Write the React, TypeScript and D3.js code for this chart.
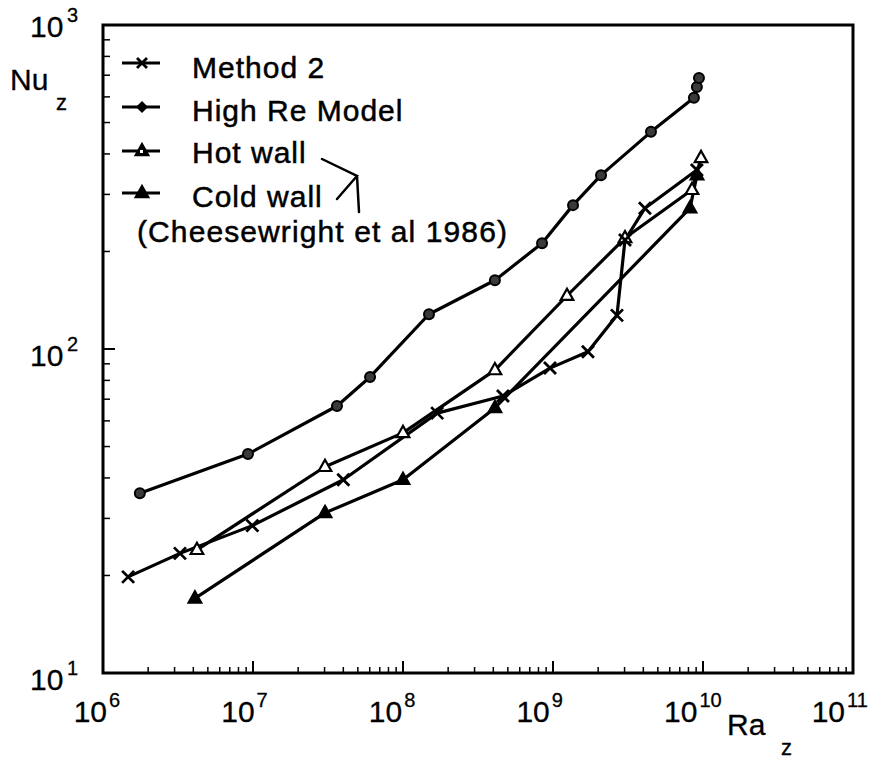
import React from 'react';
import * as d3 from 'd3';

// Ra_z, Nu_z values
const method2Ra = [1.47e6, 3.26e6, 9.9e6, 4.0e7, 1.69e8, 4.64e8, 9.55e8, 1.71e9, 2.67e9, 3.02e9, 4.1e9, 9.1e9];
const method2Nu = [19.8, 23.4, 28.5, 39.5, 63.4, 71.6, 87.3, 98, 127, 217, 272, 357];

const highReRa = [1.76e6, 9.26e6, 3.63e7, 6.03e7, 1.49e8, 4.1e8, 8.45e8, 1.36e9, 2.09e9, 4.5e9, 8.7e9, 9.1e9, 9.4e9];
const highReNu = [35.9, 47.4, 66.7, 82, 128, 163, 212, 278, 344, 468, 596, 644, 686];

const hotRa = [4.23e6, 3.02e7, 1.0e8, 4.1e8, 1.24e9, 3.02e9, 8.45e9, 9.7e9];
const hotNu = [24, 43.3, 55.1, 86.1, 146, 220, 310, 389];

const coldRa = [4.1e6, 3.02e7, 1.0e8, 4.1e8, 8.19e9, 9.12e9];
const coldNu = [17.0, 31.2, 39.5, 65.8, 272, 344];

const xDecades = [6, 7, 8, 9, 10, 11];
const yDecades = [1, 2, 3];

const legendLabels = ['Method 2', 'High Re Model', 'Hot wall', 'Cold wall'];
const sourceNote = '(Cheesewright et al 1986)';

const W = 877;
const H = 759;
const FONT = "'Liberation Sans', Arial, Helvetica, sans-serif";

const x = d3.scaleLog().domain([1e6, 1e11]).range([103, 853]);
const y = d3.scaleLog().domain([10, 1000]).range([673, 25]);

const line = d3
  .line<[number, number]>()
  .x(d => x(d[0]))
  .y(d => y(d[1]));

const zip = (a: number[], b: number[]) => a.map((v, i) => [v, b[i]] as [number, number]);

const Cross = ({ cx, cy, s = 6 }: { cx: number; cy: number; s?: number }) => (
  <path
    d={`M${cx - s},${cy - s}L${cx + s},${cy + s}M${cx - s},${cy + s}L${cx + s},${cy - s}`}
    stroke="#000"
    strokeWidth={2.8}
  />
);

const Tri = ({ cx, cy, fill, s = 7 }: { cx: number; cy: number; fill: string; s?: number }) => (
  <path
    d={`M${cx},${cy - s}L${cx + s * 0.9},${cy + s * 0.6}L${cx - s * 0.9},${cy + s * 0.6}Z`}
    fill={fill}
    stroke="#000"
    strokeWidth={2.2}
  />
);

const Dot = ({ cx, cy }: { cx: number; cy: number }) => (
  <circle cx={cx} cy={cy} r={5} fill="#3a3a3a" stroke="#000" strokeWidth={2} />
);

export default function App() {
  const m2 = zip(method2Ra, method2Nu);
  const hr = zip(highReRa, highReNu);
  const hot = zip(hotRa, hotNu);
  const cold = zip(coldRa, coldNu);

  // minor ticks
  const xMinor: number[] = [];
  for (let d = 6; d < 11; d++) for (let k = 2; k <= 9; k++) xMinor.push(k * Math.pow(10, d));
  const yMinor: number[] = [];
  for (let d = 1; d < 3; d++) for (let k = 2; k <= 9; k++) yMinor.push(k * Math.pow(10, d));

  const legendY = [63, 107, 151, 193];
  const legendTextY = [78, 121, 163, 207];
  const txt = { fill: '#000', stroke: '#000', strokeWidth: 0.5 };

  return (
    <svg
      width={W}
      height={H}
      style={{ position: 'absolute', left: 0, top: 0, background: '#fff' }}
      fontFamily={FONT}
    >
      {/* frame */}
      <rect x={103} y={25} width={750} height={648} fill="none" stroke="#000" strokeWidth={3} />

      {/* x ticks (inward) */}
      {xMinor.map((v, i) => (
        <line key={'xm' + i} x1={x(v)} x2={x(v)} y1={673} y2={667} stroke="#000" strokeWidth={1.5} />
      ))}
      {xDecades.map(d => (
        <line key={'xM' + d} x1={x(Math.pow(10, d))} x2={x(Math.pow(10, d))} y1={673} y2={661} stroke="#000" strokeWidth={2} />
      ))}
      {/* y ticks */}
      {yMinor.map((v, i) => (
        <line key={'ym' + i} x1={103} x2={110} y1={y(v)} y2={y(v)} stroke="#000" strokeWidth={1.5} />
      ))}
      {yDecades.map(d => (
        <line key={'yM' + d} x1={103} x2={115} y1={y(Math.pow(10, d))} y2={y(Math.pow(10, d))} stroke="#000" strokeWidth={2} />
      ))}

      {/* x tick labels */}
      {xDecades.map(d => {
        const ex = x(Math.pow(10, d)) + 4 - (d - 6) * 2.4;
        return (
          <text key={'xl' + d} y={722} fontSize={30} {...txt} strokeWidth={0.3}>
            <tspan x={ex} textAnchor="end">10</tspan>
            <tspan x={ex + 2} dy={-15} fontSize={20}>{d}</tspan>
          </text>
        );
      })}
      {/* y tick labels */}
      {yDecades.map(d => (
        <text key={'yl' + d} y={y(Math.pow(10, d)) + (d === 3 ? 12 : 17)} fontSize={30} {...txt} strokeWidth={0.3}>
          <tspan x={30}>10</tspan>
          <tspan x={67} dy={-15} fontSize={20}>{d}</tspan>
        </text>
      ))}

      {/* axis titles */}
      <text x={10} y={90} fontSize={30} {...txt} strokeWidth={0.3}>Nu</text>
      <text x={56} y={110} fontSize={22} {...txt} strokeWidth={0.3}>z</text>
      <text x={727} y={735} fontSize={30} {...txt} strokeWidth={0.3}>Ra</text>
      <text x={781} y={755} fontSize={22} {...txt} strokeWidth={0.3}>z</text>

      {/* series lines */}
      <g fill="none" stroke="#000" strokeWidth={3.2} strokeLinejoin="round">
        <path d={line(hr) || ''} />
        <path d={line(m2) || ''} />
        <path d={line(hot) || ''} />
        <path d={line(cold) || ''} />
      </g>

      {/* markers */}
      {hr.map((p, i) => (
        <Dot key={'hr' + i} cx={x(p[0])} cy={y(p[1])} />
      ))}
      {cold.map((p, i) => (
        <Tri key={'cw' + i} cx={x(p[0])} cy={y(p[1])} fill="#000" />
      ))}
      {hot.map((p, i) => (
        <Tri key={'hw' + i} cx={x(p[0])} cy={y(p[1])} fill="#fff" />
      ))}
      {m2.map((p, i) => (
        <Cross key={'m2' + i} cx={x(p[0])} cy={y(p[1])} />
      ))}

      {/* legend */}
      {legendY.map((ly, i) => (
        <line key={'ll' + i} x1={122} x2={160} y1={ly} y2={ly} stroke="#000" strokeWidth={3.2} />
      ))}
      <Cross cx={142} cy={legendY[0]} s={5} />
      <path d={`M142,${legendY[1] - 6}L148,${legendY[1]}L142,${legendY[1] + 6}L136,${legendY[1]}Z`} fill="#000" />
      <Tri cx={142} cy={legendY[2]} fill="#000" s={7} />
      <rect x={140} y={legendY[2] - 1} width={3} height={3} fill="#fff" />
      <Tri cx={142} cy={legendY[3]} fill="#000" s={7} />
      {legendLabels.map((t, i) => (
        <text key={'lt' + i} x={192} y={legendTextY[i]} fontSize={30} letterSpacing={1} {...txt}>
          {t}
        </text>
      ))}
      <text x={137} y={242} fontSize={30} letterSpacing={1.1} {...txt}>
        {sourceNote}
      </text>

      {/* handwritten bracket */}
      <path d="M322,159L357,176L337,199M357,176L359,212" fill="none" stroke="#000" strokeWidth={2.5} strokeLinecap="round" />
    </svg>
  );
}
